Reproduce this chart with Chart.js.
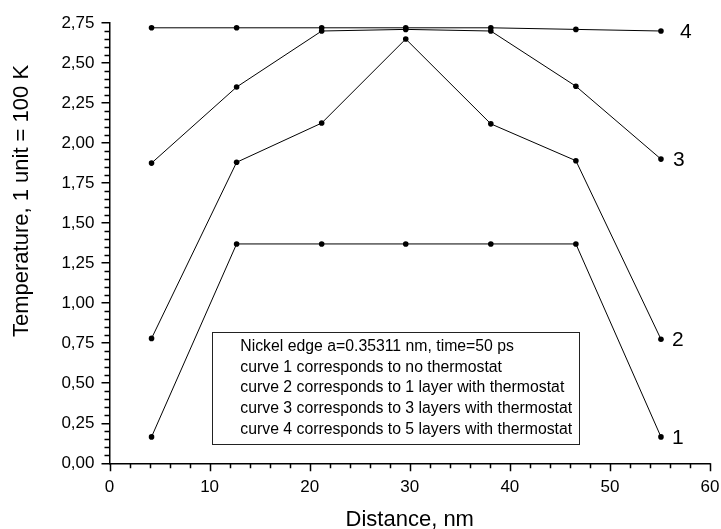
<!DOCTYPE html>
<html><head><meta charset="utf-8">
<script src="https://cdn.jsdelivr.net/npm/chart.js@4"></script>
<style>html,body{margin:0;padding:0;background:#fff}canvas{display:block}</style>
</head><body>
<canvas id="c" width="721" height="529"></canvas>
<script>
const distances = [4.2, 12.7, 21.2, 29.6, 38.1, 46.6, 55.1];
const curve1 = [0.165, 1.37, 1.37, 1.37, 1.37, 1.37, 0.165];
const curve2 = [0.78, 1.88, 2.125, 2.65, 2.12, 1.89, 0.775];
const curve3 = [1.875, 2.35, 2.70, 2.71, 2.70, 2.355, 1.90];
const curve4 = [2.72, 2.72, 2.72, 2.72, 2.72, 2.71, 2.70];
const curveNames = ['1', '2', '3', '4'];
const curveLabelOffsets = [11, 11, 12, 19];
const noteLines = [
  'Nickel edge a=0.35311 nm, time=50 ps',
  'curve 1 corresponds to no thermostat',
  'curve 2 corresponds to 1 layer with thermostat',
  'curve 3 corresponds to 3 layers with thermostat',
  'curve 4 corresponds to 5 layers with thermostat'
];
const noteBox = {x0: 10.27, x1: 46.9, y0: 0.8225, y1: 0.125};
const xTitle = 'Distance, nm';
const yTitle = 'Temperature, 1 unit = 100 K';

const FONT = '"Liberation Sans", Arial, sans-serif';
const allCurves = [curve1, curve2, curve3, curve4];

const toPts = arr => arr.map((v, i) => ({x: distances[i], y: v}));

const deco = {
  id: 'deco',
  afterDraw(chart) {
    const {ctx, scales: {x, y}, chartArea: a} = chart;
    ctx.save();
    ctx.strokeStyle = '#000';
    ctx.lineWidth = 1.5;
    ctx.beginPath();
    for (let i = 0; i <= 30; i++) {
      const v = i * 2;
      const len = v % 10 === 0 ? 8 : 5;
      const px = Math.round(x.getPixelForValue(v)) + 0.5;
      ctx.moveTo(px, a.bottom); ctx.lineTo(px, a.bottom + len);
    }
    for (let i = 0; i <= 55; i++) {
      if (i % 5 === 0) continue;
      const py = Math.round(y.getPixelForValue(i * 0.05)) + 0.5;
      ctx.moveTo(a.left, py); ctx.lineTo(a.left - 5, py);
    }
    ctx.stroke();

    ctx.fillStyle = '#000';
    // axis titles
    ctx.font = '22px ' + FONT;
    ctx.textAlign = 'center';
    ctx.textBaseline = 'middle';
    ctx.fillText(xTitle, (a.left + a.right) / 2, 520);
    ctx.save();
    ctx.translate(22, 201);
    ctx.rotate(-Math.PI / 2);
    ctx.fillText(yTitle, 0, 0);
    ctx.restore();

    // curve labels
    ctx.font = '21px ' + FONT;
    ctx.textAlign = 'left';
    ctx.textBaseline = 'middle';
    allCurves.forEach((c, i) => {
      const last = c.length - 1;
      const px = x.getPixelForValue(distances[last]);
      const py = y.getPixelForValue(c[last]);
      ctx.fillText(curveNames[i], px + curveLabelOffsets[i], py + 1);
    });

    // note box
    const bx0 = x.getPixelForValue(noteBox.x0), bx1 = x.getPixelForValue(noteBox.x1);
    const by0 = y.getPixelForValue(noteBox.y0), by1 = y.getPixelForValue(noteBox.y1);
    ctx.lineWidth = 1;
    ctx.strokeStyle = '#222';
    ctx.strokeRect(Math.round(bx0) + 0.5, Math.round(by0) + 0.5, Math.round(bx1 - bx0), Math.round(by1 - by0));
    ctx.font = '15.8px ' + FONT;
    ctx.fillStyle = '#000';
    noteLines.forEach((t, i) => {
      ctx.fillText(t, bx0 + 28, by0 + 15 + i * 20.7);
    });
    ctx.restore();
  }
};

const ds = allCurves.map(c => ({
  data: toPts(c),
  borderColor: '#000',
  backgroundColor: '#000',
  borderWidth: 1,
  pointRadius: 2.8,
  pointBorderWidth: 0,
  pointBackgroundColor: '#000',
  tension: 0,
  fill: false
}));

new Chart(document.getElementById('c'), {
  type: 'line',
  data: {datasets: ds},
  options: {
    responsive: false,
    devicePixelRatio: 1,
    animation: false,
    events: [],
    layout: {padding: {left: 0, right: 11, top: 23, bottom: 0}},
    plugins: {legend: {display: false}, tooltip: {enabled: false}},
    scales: {
      x: {
        type: 'linear', min: 0, max: 60,
        ticks: {stepSize: 10, color: '#000', font: {family: FONT, size: 17}, padding: 1, maxRotation: 0},
        grid: {display: true, drawOnChartArea: false, drawTicks: true, tickLength: 13, color: 'rgba(0,0,0,0)', lineWidth: 1.5},
        border: {display: true, color: '#000', width: 1.5},
        afterFit(s) { s.height = 65.7; }
      },
      y: {
        type: 'linear', min: 0, max: 2.75,
        ticks: {stepSize: 0.25, color: '#000', font: {family: FONT, size: 17}, padding: 7,
          callback: v => Number(v).toFixed(2).replace('.', ',')},
        grid: {display: true, drawOnChartArea: false, drawTicks: true, tickLength: 8, color: '#000', lineWidth: 1.5},
        border: {display: true, color: '#000', width: 1.5},
        afterFit(s) { s.width = 109.5; }
      }
    }
  },
  plugins: [deco]
});
</script>
</body></html>
